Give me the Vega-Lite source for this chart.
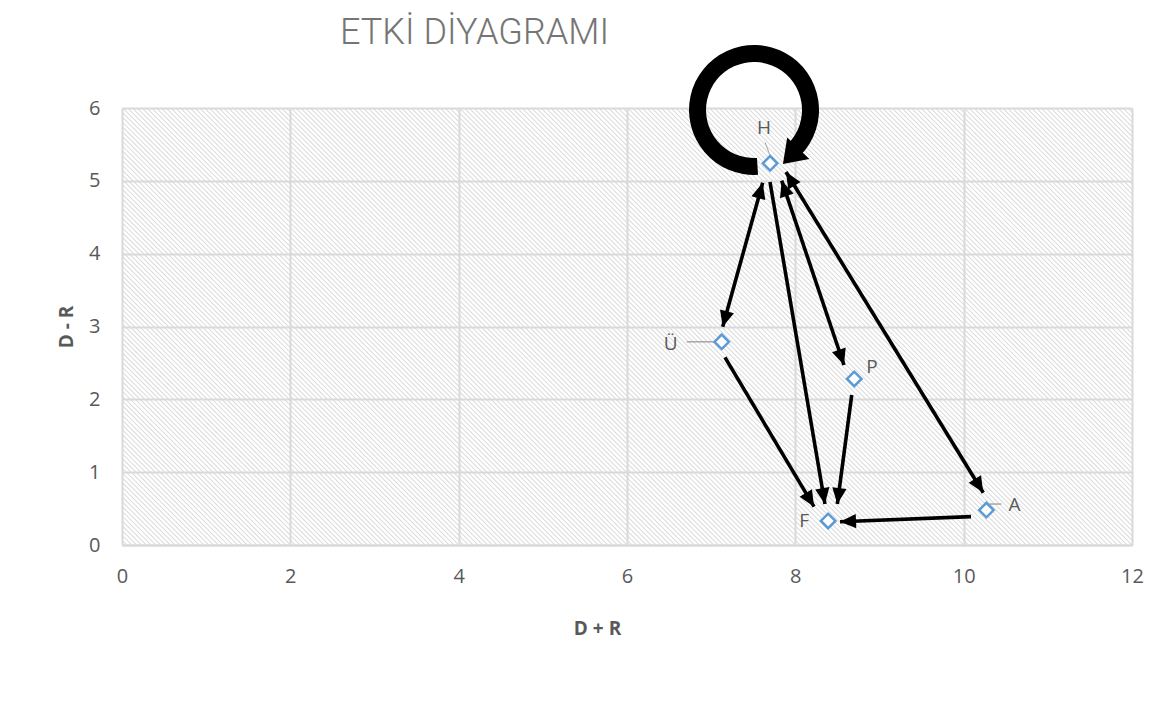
{
  "$schema": "https://vega.github.io/schema/vega-lite/v6.json",
  "width": 1010,
  "height": 437,
  "autosize": "none",
  "padding": {"left": 122, "top": 108, "right": 42, "bottom": 166},
  "background": "white",
  "title": {"text": "ETKİ DİYAGRAMI", "anchor": "start", "frame": "group", "dx": 218, "offset": -35, "baseline": "alphabetic", "font": "Roboto", "fontSize": 36, "fontWeight": 300, "color": "#757575"},
  "config": {"view": {"stroke": null}, "font": "Open Sans"},
  "datasets": {
    "points": [
      {"name": "H", "x": 7.70, "y": 5.24},
      {"name": "Ü", "x": 7.125, "y": 2.79},
      {"name": "P", "x": 8.70, "y": 2.28},
      {"name": "F", "x": 8.39, "y": 0.33},
      {"name": "A", "x": 10.27, "y": 0.48}
    ],
    "links": [
      {"x1": 7.612, "y1": 4.974, "x2": 7.137, "y2": 2.997},
      {"x1": 7.699, "y1": 4.984, "x2": 8.352, "y2": 0.563},
      {"x1": 7.838, "y1": 5.002, "x2": 8.578, "y2": 2.471},
      {"x1": 7.889, "y1": 5.121, "x2": 10.233, "y2": 0.718},
      {"x1": 7.164, "y1": 2.577, "x2": 8.222, "y2": 0.526},
      {"x1": 8.670, "y1": 2.059, "x2": 8.499, "y2": 0.563},
      {"x1": 10.087, "y1": 0.389, "x2": 8.531, "y2": 0.320}
    ],
    "heads": [
      {"tx": 7.137, "ty": 2.997, "fx": 7.612, "fy": 4.974},
      {"tx": 7.612, "ty": 4.974, "fx": 7.137, "fy": 2.997},
      {"tx": 8.352, "ty": 0.563, "fx": 7.699, "fy": 4.984},
      {"tx": 8.578, "ty": 2.471, "fx": 7.838, "fy": 5.002},
      {"tx": 7.838, "ty": 5.002, "fx": 8.578, "fy": 2.471},
      {"tx": 10.233, "ty": 0.718, "fx": 7.889, "fy": 5.121},
      {"tx": 7.889, "ty": 5.121, "fx": 10.233, "fy": 0.718},
      {"tx": 8.222, "ty": 0.526, "fx": 7.164, "fy": 2.577},
      {"tx": 8.499, "ty": 0.563, "fx": 8.670, "fy": 2.059},
      {"tx": 8.531, "ty": 0.320, "fx": 10.087, "fy": 0.389}
    ],
    "loop": [{"x": 7.509, "y": 5.973}],
    "loopHead": [{"tx": 7.853, "ty": 5.231, "fx": 8.035, "fy": 5.448}]
  },
  "layer": [
    {
      "data": {"values": [{}]},
      "mark": {"type": "rule", "clip": true, "stroke": "#dadada", "strokeWidth": 1100, "strokeDash": [1, 2.4]},
      "encoding": {
        "x": {"datum": 1.699, "type": "quantitative", "scale": {"domain": [0, 12], "nice": false, "zero": false},
          "axis": {"values": [0, 2, 4, 6, 8, 10, 12], "format": "d", "grid": true, "gridColor": "#d9d9d9", "gridWidth": 2, "domain": true, "domainColor": "#d9d9d9", "domainWidth": 2, "ticks": false, "labelPadding": 21, "labelFontSize": 20, "labelColor": "#595959", "labelFont": "Open Sans", "labelFlush": false, "labelOverlap": false, "title": "D + R", "titleFont": "Open Sans", "titleFontSize": 19, "titleFontWeight": "bold", "titleColor": "#595959", "titleX": 475, "titleY": 83, "titleAlign": "center", "titleBaseline": "middle"}},
        "y": {"datum": -1.97, "type": "quantitative", "scale": {"domain": [0, 6], "nice": false, "zero": false},
          "axis": {"values": [0, 1, 2, 3, 4, 5, 6], "format": "d", "grid": true, "gridColor": "#d9d9d9", "gridWidth": 2, "domain": false, "ticks": false, "labelPadding": 22, "labelFontSize": 20, "labelColor": "#595959", "labelFont": "Open Sans", "labelFlush": false, "labelOverlap": false, "title": "D - R", "titleFont": "Open Sans", "titleFontSize": 19, "titleFontWeight": "bold", "titleColor": "#595959", "titleX": -56, "titleY": 218.5, "titleAngle": -90, "titleAlign": "center", "titleBaseline": "middle"}},
        "x2": {"datum": 10.301},
        "y2": {"datum": 7.97}
      }
    },
    {
      "data": {"name": "links"},
      "mark": {"type": "rule", "stroke": "black", "strokeWidth": 3.6},
      "encoding": {
        "x": {"field": "x1", "type": "quantitative", "scale": {"domain": [0, 12], "nice": false, "zero": false}},
        "y": {"field": "y1", "type": "quantitative", "scale": {"domain": [0, 6], "nice": false, "zero": false}},
        "x2": {"field": "x2"},
        "y2": {"field": "y2"}
      }
    },
    {
      "data": {"name": "heads"},
      "transform": [{"calculate": "atan2((datum.tx-datum.fx)*84.167,(datum.ty-datum.fy)*72.833)*180/PI", "as": "ang"}],
      "mark": {"type": "point", "shape": "M0,0L0.45,1L-0.45,1Z", "filled": true, "color": "black", "opacity": 1, "size": 1024, "strokeWidth": 0},
      "encoding": {
        "x": {"field": "tx", "type": "quantitative", "scale": {"domain": [0, 12], "nice": false, "zero": false}},
        "y": {"field": "ty", "type": "quantitative", "scale": {"domain": [0, 6], "nice": false, "zero": false}},
        "angle": {"field": "ang", "type": "quantitative", "scale": null}
      }
    },
    {
      "data": {"name": "loop"},
      "mark": {"type": "arc", "radius": 65, "radius2": 48, "theta": 3.08, "theta2": 8.627, "color": "black", "opacity": 1},
      "encoding": {
        "x": {"field": "x", "type": "quantitative", "scale": {"domain": [0, 12], "nice": false, "zero": false}},
        "y": {"field": "y", "type": "quantitative", "scale": {"domain": [0, 6], "nice": false, "zero": false}}
      }
    },
    {
      "data": {"name": "loopHead"},
      "transform": [{"calculate": "atan2((datum.tx-datum.fx)*84.167,(datum.ty-datum.fy)*72.833)*180/PI", "as": "ang"}],
      "mark": {"type": "point", "shape": "M0,0L0.7,1L-0.7,1Z", "filled": true, "color": "black", "opacity": 1, "size": 1936, "strokeWidth": 0},
      "encoding": {
        "x": {"field": "tx", "type": "quantitative", "scale": {"domain": [0, 12], "nice": false, "zero": false}},
        "y": {"field": "ty", "type": "quantitative", "scale": {"domain": [0, 6], "nice": false, "zero": false}},
        "angle": {"field": "ang", "type": "quantitative", "scale": null}
      }
    },
    {
      "data": {"name": "points"},
      "transform": [{"filter": "datum.name == 'H'"}],
      "mark": {"type": "rule", "stroke": "#a6a6a6", "strokeWidth": 1, "xOffset": -5, "yOffset": -21, "x2Offset": 1, "y2Offset": -5},
      "encoding": {
        "x": {"field": "x", "type": "quantitative", "scale": {"domain": [0, 12], "nice": false, "zero": false}},
        "y": {"field": "y", "type": "quantitative", "scale": {"domain": [0, 6], "nice": false, "zero": false}},
        "x2": {"field": "x"},
        "y2": {"field": "y"}
      }
    },
    {
      "data": {"name": "points"},
      "transform": [{"filter": "datum.name == 'Ü'"}],
      "mark": {"type": "rule", "stroke": "#a6a6a6", "strokeWidth": 1.5, "xOffset": -35, "x2Offset": -7},
      "encoding": {
        "x": {"field": "x", "type": "quantitative", "scale": {"domain": [0, 12], "nice": false, "zero": false}},
        "y": {"field": "y", "type": "quantitative", "scale": {"domain": [0, 6], "nice": false, "zero": false}},
        "x2": {"field": "x"}
      }
    },
    {
      "data": {"name": "points"},
      "transform": [{"filter": "datum.name == 'A'"}],
      "mark": {"type": "rule", "stroke": "#a6a6a6", "strokeWidth": 1.5, "xOffset": 3, "x2Offset": 15, "yOffset": -6},
      "encoding": {
        "x": {"field": "x", "type": "quantitative", "scale": {"domain": [0, 12], "nice": false, "zero": false}},
        "y": {"field": "y", "type": "quantitative", "scale": {"domain": [0, 6], "nice": false, "zero": false}},
        "x2": {"field": "x"}
      }
    },
    {
      "data": {"name": "points"},
      "mark": {"type": "point", "shape": "diamond", "filled": false, "fill": "white", "stroke": "#5b9bd5", "strokeWidth": 2.5, "size": 210, "opacity": 1},
      "encoding": {
        "x": {"field": "x", "type": "quantitative", "scale": {"domain": [0, 12], "nice": false, "zero": false}},
        "y": {"field": "y", "type": "quantitative", "scale": {"domain": [0, 6], "nice": false, "zero": false}}
      }
    },
    {
      "data": {"name": "points"},
      "transform": [{"filter": "datum.name == 'H'"}],
      "mark": {"type": "text", "font": "Open Sans", "fontSize": 19, "color": "#595959", "align": "center", "baseline": "middle", "dx": -6, "dy": -35},
      "encoding": {
        "x": {"field": "x", "type": "quantitative", "scale": {"domain": [0, 12], "nice": false, "zero": false}},
        "y": {"field": "y", "type": "quantitative", "scale": {"domain": [0, 6], "nice": false, "zero": false}},
        "text": {"field": "name"}
      }
    },
    {
      "data": {"name": "points"},
      "transform": [{"filter": "datum.name == 'Ü'"}],
      "mark": {"type": "text", "font": "Open Sans", "fontSize": 19, "color": "#595959", "align": "right", "baseline": "middle", "dx": -44, "dy": 2},
      "encoding": {
        "x": {"field": "x", "type": "quantitative", "scale": {"domain": [0, 12], "nice": false, "zero": false}},
        "y": {"field": "y", "type": "quantitative", "scale": {"domain": [0, 6], "nice": false, "zero": false}},
        "text": {"field": "name"}
      }
    },
    {
      "data": {"name": "points"},
      "transform": [{"filter": "datum.name == 'P'"}],
      "mark": {"type": "text", "font": "Open Sans", "fontSize": 19, "color": "#595959", "align": "left", "baseline": "middle", "dx": 12, "dy": -12},
      "encoding": {
        "x": {"field": "x", "type": "quantitative", "scale": {"domain": [0, 12], "nice": false, "zero": false}},
        "y": {"field": "y", "type": "quantitative", "scale": {"domain": [0, 6], "nice": false, "zero": false}},
        "text": {"field": "name"}
      }
    },
    {
      "data": {"name": "points"},
      "transform": [{"filter": "datum.name == 'F'"}],
      "mark": {"type": "text", "font": "Open Sans", "fontSize": 19, "color": "#595959", "align": "right", "baseline": "middle", "dx": -19, "dy": 0},
      "encoding": {
        "x": {"field": "x", "type": "quantitative", "scale": {"domain": [0, 12], "nice": false, "zero": false}},
        "y": {"field": "y", "type": "quantitative", "scale": {"domain": [0, 6], "nice": false, "zero": false}},
        "text": {"field": "name"}
      }
    },
    {
      "data": {"name": "points"},
      "transform": [{"filter": "datum.name == 'A'"}],
      "mark": {"type": "text", "font": "Open Sans", "fontSize": 19, "color": "#595959", "align": "left", "baseline": "middle", "dx": 22, "dy": -5},
      "encoding": {
        "x": {"field": "x", "type": "quantitative", "scale": {"domain": [0, 12], "nice": false, "zero": false}},
        "y": {"field": "y", "type": "quantitative", "scale": {"domain": [0, 6], "nice": false, "zero": false}},
        "text": {"field": "name"}
      }
    }
  ]
}
